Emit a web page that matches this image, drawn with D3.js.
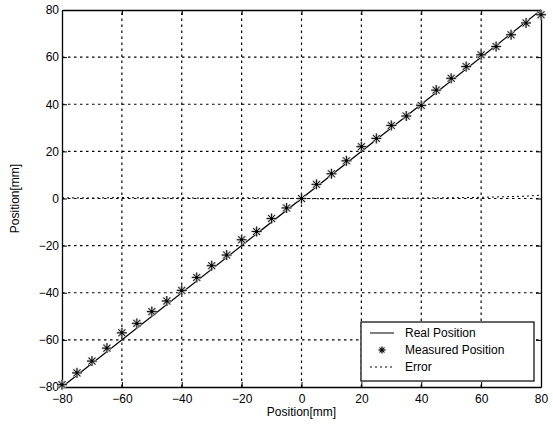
<!DOCTYPE html>
<html>
<head>
<meta charset="utf-8">
<script src="https://cdn.jsdelivr.net/npm/d3@7"></script>
<style>
  body { margin: 0; background: #fff; }
  text { font-family: "Liberation Sans", Arial, sans-serif; fill: #000; }
</style>
</head>
<body>
<div id="chart"></div>
<script>
// real position samples (mm)
var realX = [-80, 80];
// measured positions, one every 5 mm
var measX = [-80, -75, -70, -65, -60, -55, -50, -45, -40, -35, -30, -25, -20, -15, -10, -5, 0,
             5, 10, 15, 20, 25, 30, 35, 40, 45, 50, 55, 60, 65, 70, 75, 80];
var measY = [-79, -74, -69, -63.5, -57, -53, -48, -43.5, -39, -33.5, -28.5, -24, -17.5, -14, -8.5, -4, 0,
             6, 10.5, 16, 22, 25.5, 31, 35, 39.5, 46, 51, 56, 61, 64.5, 69.5, 74.5, 78];
// error curve
var errX = [-80, -70, -60, -50, -40, -30, -20, -10, 0, 10, 20, 30, 40, 50, 60, 70, 75, 80];
var errY = [0.3, 0.2, 0.4, 0.2, 0.3, 0.1, 0.3, 0.2, 0, -0.2, 0, 0.1, 0.2, 0.3, 0.5, 0.8, 1.0, 1.4];
var ticks = [-80, -60, -40, -20, 0, 20, 40, 60, 80];
var legendItems = ["Real Position", "Measured Position", "Error"];

var W = 553, H = 429;
var margin = {top: 10, right: 12, bottom: 42, left: 62};

var svg = d3.select("#chart").append("svg")
    .attr("width", W)
    .attr("height", H);

var x = d3.scaleLinear().domain([-80, 80]).range([margin.left, W - margin.right]);
var y = d3.scaleLinear().domain([-80, 80]).range([H - margin.bottom, margin.top]);

// grid
var grid = svg.append("g").attr("id", "grid");
grid.selectAll("line.gx").data(ticks.slice(1, -1)).enter().append("line")
    .attr("x1", function (d) { return x(d); })
    .attr("x2", function (d) { return x(d); })
    .attr("y1", y(-80)).attr("y2", y(80))
    .attr("stroke", "#000").attr("stroke-width", 1.2)
    .attr("stroke-dasharray", "2.5,3.5");
grid.selectAll("line.gy").data(ticks.slice(1, -1)).enter().append("line")
    .attr("y1", function (d) { return y(d); })
    .attr("y2", function (d) { return y(d); })
    .attr("x1", x(-80)).attr("x2", x(80))
    .attr("stroke", "#000").attr("stroke-width", 1.2)
    .attr("stroke-dasharray", "2.5,3.5");

// axes
var xAxis = d3.axisBottom(x).tickValues(ticks).tickSizeInner(-5).tickSizeOuter(0).tickPadding(7);
var yAxis = d3.axisLeft(y).tickValues(ticks).tickSizeInner(-5).tickSizeOuter(0).tickPadding(3);
var xTop = d3.axisTop(x).tickValues(ticks).tickSizeInner(-5).tickSizeOuter(0).tickFormat("");
var yRight = d3.axisRight(y).tickValues(ticks).tickSizeInner(-5).tickSizeOuter(0).tickFormat("");

function styleAxis(g) {
    g.select(".domain").attr("stroke", "#000").attr("stroke-width", 1.3);
    g.selectAll(".tick line").attr("stroke", "#000");
    g.selectAll(".tick text").attr("font-size", 12).attr("font-family", "Liberation Sans, Arial, sans-serif");
}
svg.append("g").attr("transform", "translate(0," + y(-80) + ")").call(xAxis).call(styleAxis);
svg.append("g").attr("transform", "translate(" + x(-80) + ",0)").call(yAxis).call(styleAxis);
svg.append("g").attr("transform", "translate(0," + y(80) + ")").call(xTop).call(styleAxis);
svg.append("g").attr("transform", "translate(" + x(80) + ",0)").call(yRight).call(styleAxis);

// error line
var line = d3.line().x(function (d) { return x(d[0]); }).y(function (d) { return y(d[1]); });
svg.append("path")
    .datum(d3.zip(errX, errY))
    .attr("d", line)
    .attr("fill", "none").attr("stroke", "#000").attr("stroke-width", 1)
    .attr("stroke-dasharray", "2,3");

// real position
svg.append("path")
    .datum(realX.map(function (d) { return [d, d]; }))
    .attr("d", line)
    .attr("fill", "none").attr("stroke", "#000").attr("stroke-width", 1.2);

// measured stars
function star(g, r) {
    var paths = "M" + (-r) + ",0L" + r + ",0M0," + (-r) + "L0," + r +
        "M" + (-r * 0.7) + "," + (-r * 0.7) + "L" + (r * 0.7) + "," + (r * 0.7) +
        "M" + (-r * 0.7) + "," + (r * 0.7) + "L" + (r * 0.7) + "," + (-r * 0.7);
    g.append("path").attr("d", paths).attr("stroke", "#bbb").attr("stroke-width", 2.2);
    g.append("path").attr("d", paths).attr("stroke", "#000").attr("stroke-width", 0.9);
    g.append("circle").attr("r", 1.5).attr("fill", "#000");
}
svg.append("g").selectAll("g").data(d3.zip(measX, measY)).enter().append("g")
    .attr("transform", function (d) { return "translate(" + x(d[0]) + "," + y(d[1]) + ")"; })
    .each(function () { star(d3.select(this), 5); });

// labels
svg.append("text")
    .attr("x", (x(-80) + x(80)) / 2).attr("y", H - 13)
    .attr("text-anchor", "middle").attr("font-size", 12)
    .text("Position[mm]");
svg.append("text")
    .attr("transform", "translate(19," + (y(0)) + ") rotate(-90)")
    .attr("text-anchor", "middle").attr("font-size", 12)
    .text("Position[mm]");

// legend
var lg = svg.append("g").attr("transform", "translate(361,322)");
lg.append("rect").attr("width", 173).attr("height", 59)
    .attr("fill", "#fff").attr("stroke", "#000").attr("stroke-width", 1.2);
lg.selectAll("text").data(legendItems).enter().append("text")
    .attr("x", 44).attr("y", function (d, i) { return 15 + i * 17; })
    .attr("font-size", 12)
    .text(function (d) { return d; });
lg.append("line").attr("x1", 9).attr("x2", 33).attr("y1", 11).attr("y2", 11)
    .attr("stroke", "#000").attr("stroke-width", 1);
star(lg.append("g").attr("transform", "translate(21,28)"), 3.5);
lg.append("line").attr("x1", 9).attr("x2", 33).attr("y1", 45).attr("y2", 45)
    .attr("stroke", "#000").attr("stroke-width", 1).attr("stroke-dasharray", "2,3");
</script>
</body>
</html>
